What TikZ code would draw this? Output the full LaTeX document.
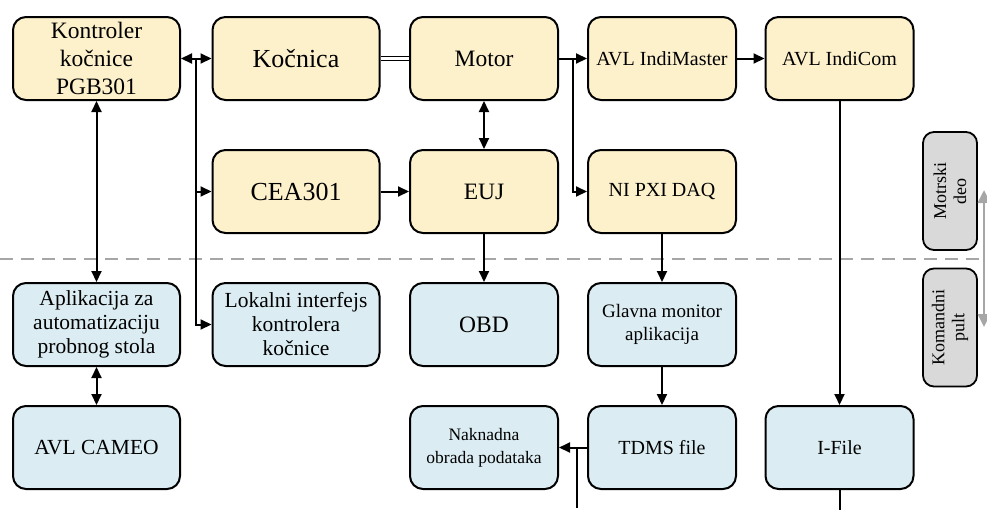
\documentclass[tikz,border=0pt]{standalone}
\usepackage{fontspec}
\setmainfont{Liberation Serif}
\usepackage{tikz}
\usetikzlibrary{arrows.meta,calc}
\usepackage{xcolor}
\definecolor{motorfill}{HTML}{FDF1CC}
\definecolor{pultfill}{HTML}{DBEDF3}
\definecolor{partfill}{HTML}{D9D9D9}
\definecolor{splitgray}{HTML}{A6A6A6}

\begin{document}
\begin{tikzpicture}[x=1pt,y=-1pt,
  blk/.style={draw, line width=2pt, rounded corners=13pt, align=center,
    minimum height=83pt, inner sep=2pt},
  wide/.style={blk, minimum width=167pt},
  narrow/.style={blk, minimum width=148pt},
  eng/.style={fill=motorfill},
  cmd/.style={fill=pultfill},
  huge/.style={font=\fontsize{26}{30}\selectfont},
  big/.style={font=\fontsize{23.5}{28}\selectfont},
  med/.style={font=\fontsize{21.5}{24}\selectfont},
  mid/.style={font=\fontsize{20}{24}\selectfont},
  sml/.style={font=\fontsize{17.5}{23}\selectfont},
  part/.style={draw, line width=1.8pt, rounded corners=11pt, fill=partfill, align=center,
    rotate=90, minimum width=118pt, minimum height=54pt, inner sep=1pt,
    font=\fontsize{18}{20}\selectfont},
  arr/.style={line width=2pt, -{Triangle[length=11pt,width=10pt]}},
  barr/.style={line width=2pt, {Triangle[length=11pt,width=10pt]}-{Triangle[length=11pt,width=10pt]}}]
  \useasboundingbox (0,0) rectangle (987,509);

  % split between engine room and control desk
  \draw[splitgray, line width=2.2pt, dash pattern=on 13pt off 8pt] (0,259) -- (987,259);

  % engine side
  \node[wide, eng, font=\fontsize{23.5}{28}\selectfont] (kpgb) at (96.5,58.5) {Kontroler\\kočnice\\PGB301};
  \node[wide, eng, huge] (kocnica) at (296,58.5) {Kočnica};
  \node[narrow, eng, big] (motor) at (484,58.5) {Motor};
  \node[narrow, eng, mid] (indimaster) at (662,58.5) {AVL IndiMaster};
  \node[narrow, eng, mid] (indicom) at (839.5,58.5) {AVL IndiCom};
  \node[wide, eng, huge] (cea) at (296,191.5) {CEA301};
  \node[narrow, eng, big] (euj) at (484,191.5) {EUJ};
  \node[narrow, eng, mid] (daq) at (662,191.5) {NI PXI DAQ};

  % control desk side
  \node[wide, cmd, med] (aplik) at (96.5,324.5) {Aplikacija za\\automatizaciju\\probnog stola};
  \node[wide, cmd, med] (lokalni) at (296,324.5) {Lokalni interfejs\\kontrolera\\kočnice};
  \node[narrow, cmd, big] (obd) at (484,324.5) {OBD};
  \node[narrow, cmd, font=\fontsize{19}{23}\selectfont] (glavna) at (662,324.5) {Glavna monitor\\aplikacija};
  \node[wide, cmd, med] (cameo) at (96.5,447.5) {AVL CAMEO};
  \node[narrow, cmd, sml] (naknadna) at (484,447.5) {Naknadna\\obrada podataka};
  \node[narrow, cmd, mid] (tdms) at (662,447.5) {TDMS file};
  \node[narrow, cmd, mid] (ifile) at (839.5,447.5) {I-File};

  % side labels
  \node[part] (motrski) at (950,191) {Motrski\\deo};
  \node[part] (komandni) at (950,327.5) {Komandni\\pult};
  \coordinate (gtop) at (984,190);
  \coordinate (gbot) at (984,327);
  \draw[splitgray, line width=2.8pt, {Triangle[length=13pt,width=12pt]}-{Triangle[length=13pt,width=12pt]}] (gtop) -- (gbot);

  % junctions
  \coordinate (jk) at ($(kpgb.east)!0.5!(kocnica.west)$);
  \coordinate (jm) at ($(motor.east)!0.5!(indimaster.west)$);
  \coordinate (jt) at ($(naknadna.east)+(18,0)$);

  % connectors
  \draw[barr] (kpgb.east) -- (kocnica.west);
  \draw[arr] (jk) |- (cea.west);
  \draw[arr] (jk) |- (lokalni.west);
  \draw[barr] (kpgb.south) -- (aplik.north);
  \draw[barr] (aplik.south) -- (cameo.north);
  \draw[line width=1.7pt, double, double distance=2.5pt] (kocnica.east) -- (motor.west);
  \draw[barr] (motor.south) -- (euj.north);
  \draw[arr] (cea.east) -- (euj.west);
  \draw[arr] (motor.east) -- (indimaster.west);
  \draw[arr] (jm) |- (daq.west);
  \draw[arr] (indimaster.east) -- (indicom.west);
  \draw[arr] (euj.south) -- (obd.north);
  \draw[arr] (daq.south) -- (glavna.north);
  \draw[arr] (glavna.south) -- (tdms.north);
  \draw[arr] (indicom.south) -- (ifile.north);
  \draw[arr] (tdms.west) -- (naknadna.east);
  \draw[line width=2pt] (jt) -- ++(0,60);
  \draw[line width=2pt] (ifile.south) -- ++(0,30);
\end{tikzpicture}
\end{document}
